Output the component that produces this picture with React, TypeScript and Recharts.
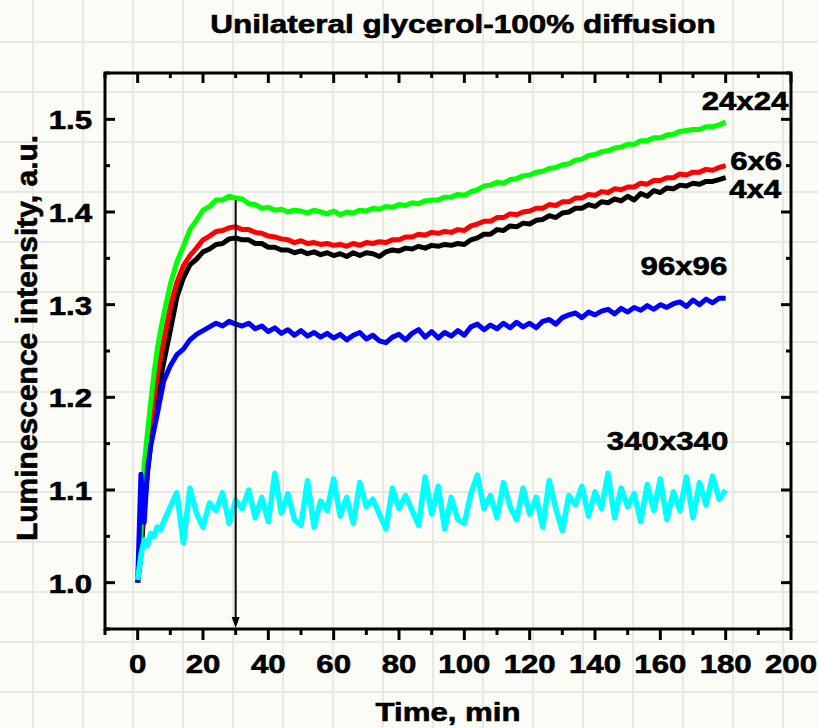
import React from "react";
import {
  LineChart,
  Line,
  XAxis,
  YAxis,
  ReferenceArea,
  ReferenceLine,
  ReferenceDot,
} from "recharts";

// time axis, minutes (denser sampling during the initial rise)
const times = [
  0, 1, 2, 3, 4, 5, 6, 7, 8,
  10, 12, 14, 16, 18, 20, 22, 24, 26, 28,
  30, 32, 34, 36, 38, 40, 42, 44, 46, 48,
  50, 52, 54, 56, 58, 60, 62, 64, 66, 68,
  70, 72, 74, 76, 78, 80, 82, 84, 86, 88,
  90, 92, 94, 96, 98, 100, 102, 104, 106, 108,
  110, 112, 114, 116, 118, 120, 122, 124, 126, 128,
  130, 132, 134, 136, 138, 140, 142, 144, 146, 148,
  150, 152, 154, 156, 158, 160, 162, 164, 166, 168,
  170, 172, 174, 176, 178, 180,
];

const s24x24 = [
  1.0, 1.06, 1.128, 1.162, 1.195, 1.226, 1.252, 1.272, 1.29,
  1.322, 1.346, 1.363, 1.381, 1.391, 1.402, 1.406, 1.413, 1.413, 1.417,
  1.415, 1.414, 1.409, 1.408, 1.404, 1.405, 1.402, 1.403, 1.4, 1.402,
  1.401, 1.399, 1.402, 1.4, 1.398, 1.401, 1.397, 1.4, 1.399, 1.402,
  1.401, 1.404, 1.403, 1.406, 1.405, 1.408, 1.407, 1.41, 1.409, 1.412,
  1.413, 1.413, 1.416, 1.416, 1.419, 1.418, 1.422, 1.424, 1.428, 1.429,
  1.432, 1.431, 1.435, 1.436, 1.439, 1.44, 1.443, 1.444, 1.447, 1.448,
  1.451, 1.452, 1.456, 1.457, 1.461, 1.462, 1.465, 1.466, 1.469, 1.47,
  1.473, 1.473, 1.477, 1.477, 1.48, 1.48, 1.483, 1.484, 1.487, 1.488,
  1.489, 1.489, 1.492, 1.492, 1.494, 1.497,
];

const s6x6 = [
  1.0, 1.04, 1.1, 1.14, 1.17, 1.2, 1.224, 1.244, 1.262,
  1.298, 1.324, 1.342, 1.353, 1.361, 1.37, 1.374, 1.379, 1.38, 1.383,
  1.384, 1.381, 1.381, 1.378, 1.377, 1.374, 1.373, 1.371, 1.37, 1.367,
  1.369, 1.366, 1.367, 1.365, 1.366, 1.364, 1.365, 1.363, 1.366, 1.364,
  1.367, 1.366, 1.368, 1.367, 1.37, 1.37, 1.373, 1.373, 1.376, 1.375,
  1.378, 1.377, 1.379, 1.378, 1.381, 1.38, 1.385, 1.387, 1.39, 1.39,
  1.394, 1.394, 1.398, 1.397, 1.4, 1.401, 1.404, 1.404, 1.408, 1.407,
  1.411, 1.411, 1.415, 1.415, 1.419, 1.418, 1.422, 1.421, 1.425, 1.424,
  1.427, 1.427, 1.431, 1.43, 1.434, 1.434, 1.437, 1.437, 1.441, 1.44,
  1.443, 1.443, 1.446, 1.445, 1.448, 1.45,
];

const s4x4 = [
  1.0, 1.03, 1.08, 1.118, 1.15, 1.178, 1.2, 1.22, 1.238,
  1.272, 1.308, 1.329, 1.343, 1.349, 1.357, 1.36, 1.365, 1.366, 1.371,
  1.372, 1.37, 1.37, 1.366, 1.366, 1.362, 1.362, 1.359, 1.359, 1.356,
  1.358, 1.355, 1.357, 1.354, 1.356, 1.353, 1.355, 1.352, 1.356, 1.353,
  1.356, 1.355, 1.352, 1.357, 1.359, 1.358, 1.361, 1.36, 1.363, 1.361,
  1.364, 1.363, 1.365, 1.364, 1.366, 1.365, 1.37, 1.372, 1.376, 1.376,
  1.381, 1.38, 1.385, 1.384, 1.388, 1.387, 1.391, 1.392, 1.396, 1.394,
  1.399, 1.4, 1.404, 1.404, 1.408, 1.406, 1.411, 1.41, 1.414, 1.412,
  1.417, 1.413, 1.42, 1.417, 1.423, 1.421, 1.426, 1.425, 1.429, 1.428,
  1.431, 1.43, 1.433, 1.433, 1.435, 1.437,
];

const s96x96 = [
  1.0, 1.117, 1.065, 1.122, 1.148, 1.165, 1.182, 1.2, 1.218,
  1.234, 1.246, 1.252, 1.262, 1.268, 1.272, 1.276, 1.28, 1.277, 1.282,
  1.279, 1.277, 1.28, 1.274, 1.277, 1.271, 1.275, 1.269, 1.273, 1.267,
  1.272, 1.266, 1.27, 1.265, 1.269, 1.264, 1.268, 1.262, 1.267, 1.27,
  1.263, 1.267, 1.261, 1.259, 1.265, 1.268, 1.262, 1.269, 1.273, 1.265,
  1.271, 1.264, 1.27, 1.266, 1.272, 1.267, 1.276, 1.279, 1.273, 1.278,
  1.274, 1.28, 1.275, 1.281, 1.276, 1.28, 1.275, 1.282, 1.284, 1.279,
  1.286, 1.289, 1.291, 1.286, 1.292, 1.289, 1.293, 1.295, 1.29, 1.296,
  1.292, 1.297, 1.294, 1.299, 1.295, 1.3, 1.297, 1.301, 1.303, 1.298,
  1.305, 1.3, 1.306, 1.302, 1.307, 1.307,
];

const s340x340 = [
  1.003, 1.03, 1.046, 1.04, 1.053, 1.05, 1.06, 1.057, 1.066,
  1.082, 1.097, 1.043, 1.102, 1.075, 1.06, 1.086, 1.078, 1.097, 1.064,
  1.089, 1.08, 1.1, 1.07, 1.092, 1.066, 1.118, 1.075, 1.096, 1.068,
  1.062, 1.11, 1.06, 1.088, 1.078, 1.112, 1.072, 1.092, 1.064, 1.108,
  1.082, 1.09, 1.074, 1.058, 1.102, 1.08, 1.094, 1.078, 1.062, 1.114,
  1.074, 1.104, 1.058, 1.092, 1.068, 1.064, 1.096, 1.116, 1.08, 1.094,
  1.07, 1.108, 1.082, 1.068, 1.102, 1.074, 1.092, 1.06, 1.11, 1.08,
  1.056, 1.094, 1.084, 1.104, 1.072, 1.098, 1.08, 1.118, 1.07, 1.102,
  1.082, 1.096, 1.066, 1.106, 1.078, 1.112, 1.068, 1.098, 1.078, 1.114,
  1.07, 1.108, 1.084, 1.115, 1.09, 1.1,
];

const xTicks = [-10, 0, 10, 20, 30, 40, 50, 60, 70, 80, 90, 100, 110, 120, 130, 140, 150, 160, 170, 180, 190, 200];
const yTicks = [0.95, 1.0, 1.05, 1.1, 1.15, 1.2, 1.25, 1.3, 1.35, 1.4, 1.45, 1.5, 1.55];

// series labels: [text, x at right edge, baseline y]
const seriesLabels: [string, number, number][] = [
  ["24x24", 199.2, 1.51],
  ["6x6", 197.3, 1.445],
  ["4x4", 197.0, 1.415],
  ["96x96", 180.5, 1.332],
  ["340x340", 180.8, 1.143],
];

const rows = times.map((t, i) => ({
  t,
  s4: s4x4[i],
  s6: s6x6[i],
  s24: s24x24[i],
  s96: s96x96[i],
  s340: s340x340[i],
}));

const FONT = "'Liberation Sans', Arial, Helvetica, sans-serif";
const SX = 1.2; // the original text is rendered wide
const TXT = { fontFamily: FONT, fontWeight: "bold", fill: "#000", stroke: "#000", strokeWidth: 0.6 } as const;

const isMajorY = (v: number) => Math.abs(v * 10 - Math.round(v * 10)) < 1e-6;

function BottomTick(props: any) {
  const { x, y, payload } = props;
  const v = payload.value;
  const major = v % 20 === 0;
  return (
    <g>
      <line x1={x} x2={x} y1={y} y2={y + (major ? 11 : 6)} stroke="#000" strokeWidth={3} />
      {major && (
        <text transform={`translate(${x},${y + 44}) scale(${SX},1)`} textAnchor="middle" fontSize={26} {...TXT}>
          {v}
        </text>
      )}
    </g>
  );
}

function TopTick(props: any) {
  const { x, y, payload } = props;
  const major = payload.value % 20 === 0;
  return <line x1={x} x2={x} y1={y} y2={y + (major ? 10 : 5)} stroke="#000" strokeWidth={3} />;
}

function LeftTick(props: any) {
  const { x, y, payload } = props;
  const v = payload.value;
  const major = isMajorY(v);
  return (
    <g>
      <line x1={x} x2={x + (major ? 10 : 5)} y1={y} y2={y} stroke="#000" strokeWidth={3} />
      {major && (
        <text transform={`translate(${x - 13},${y + 10}) scale(${SX},1)`} textAnchor="end" fontSize={26} {...TXT}>
          {v.toFixed(1)}
        </text>
      )}
    </g>
  );
}

function RightTick(props: any) {
  const { x, y, payload } = props;
  const major = isMajorY(payload.value);
  return <line x1={x} x2={x - (major ? 10 : 5)} y1={y} y2={y} stroke="#000" strokeWidth={3} />;
}

export default function App() {
  return (
    <div
      style={{
        position: "absolute",
        left: 0,
        top: 0,
        width: 818,
        height: 728,
        backgroundColor: "#fcfcf7",
        backgroundImage:
          "linear-gradient(to right, #e9e9e3 2px, transparent 2px), linear-gradient(to bottom, #e9e9e3 2px, transparent 2px)",
        backgroundSize: "50px 50px",
        backgroundPosition: "32px 41px",
      }}
    >
      <LineChart
        width={818}
        height={728}
        data={rows}
        margin={{ top: 53, right: 7, bottom: 0, left: 0 }}
      >
        <XAxis
          dataKey="t"
          type="number"
          domain={[-10, 200]}
          ticks={xTicks}
          interval={0}
          allowDataOverflow
          height={99}
          axisLine={false}
          tickLine={false}
          tickSize={0}
          tickMargin={0}
          tick={BottomTick}
        />
        <XAxis
          xAxisId="top"
          orientation="top"
          dataKey="t"
          type="number"
          domain={[-10, 200]}
          ticks={xTicks}
          interval={0}
          allowDataOverflow
          height={20}
          axisLine={false}
          tickLine={false}
          tickSize={0}
          tickMargin={0}
          tick={TopTick}
        />
        <YAxis
          type="number"
          domain={[0.95, 1.55]}
          ticks={yTicks}
          interval={0}
          allowDataOverflow
          width={105}
          axisLine={false}
          tickLine={false}
          tickSize={0}
          tickMargin={0}
          tick={LeftTick}
        />
        <YAxis
          yAxisId="right"
          orientation="right"
          type="number"
          domain={[0.95, 1.55]}
          ticks={yTicks}
          interval={0}
          allowDataOverflow
          width={20}
          axisLine={false}
          tickLine={false}
          tickSize={0}
          tickMargin={0}
          tick={RightTick}
        />

        <Line dataKey="s4" stroke="#000000" strokeWidth={5} dot={false} activeDot={false} strokeLinejoin="round" isAnimationActive={false} />
        <Line dataKey="s6" stroke="#ff0000" strokeWidth={5} dot={false} activeDot={false} strokeLinejoin="round" isAnimationActive={false} />
        <Line dataKey="s24" stroke="#00ff00" strokeWidth={5} dot={false} activeDot={false} strokeLinejoin="round" isAnimationActive={false} />
        <Line dataKey="s96" stroke="#0000ff" strokeWidth={5} dot={false} activeDot={false} strokeLinejoin="round" isAnimationActive={false} />
        <Line dataKey="s340" stroke="#00ffff" strokeWidth={5.5} dot={false} activeDot={false} strokeLinejoin="round" isAnimationActive={false} />

        <ReferenceArea x1={-10} x2={200} y1={0.95} y2={1.55} fill="none" stroke="#000" strokeWidth={3} />

        {/* arrow at t = 30 min */}
        <ReferenceLine
          segment={[
            { x: 30, y: 1.413 },
            { x: 30, y: 0.962 },
          ]}
          stroke="#000"
          strokeWidth={2}
        />
        <ReferenceDot
          x={30}
          y={0.95}
          shape={(p: any) => (
            <polygon
              points={`${p.cx - 4},${p.cy - 12} ${p.cx + 4},${p.cy - 12} ${p.cx},${p.cy - 1}`}
              fill="#000"
            />
          )}
        />

        {seriesLabels.map(([label, lx, ly]) => (
          <ReferenceDot
            key={label}
            x={lx}
            y={ly}
            shape={(p: any) => (
              <text transform={`translate(${p.cx},${p.cy}) scale(${SX},1)`} textAnchor="end" fontSize={26} {...TXT}>
                {label}
              </text>
            )}
          />
        ))}
      </LineChart>

      <svg
        width={818}
        height={728}
        style={{ position: "absolute", left: 0, top: 0, pointerEvents: "none" }}
      >
        <text transform="translate(463,33) scale(1.26,1)" textAnchor="middle" fontSize={25} {...TXT}>
          Unilateral glycerol-100% diffusion
        </text>
        <text transform={`translate(448,721) scale(${SX},1)`} textAnchor="middle" fontSize={26} {...TXT}>
          Time, min
        </text>
        <text transform="translate(37,338) rotate(-90)" textAnchor="middle" fontSize={30} {...TXT}>
          Luminescence intensity, a.u.
        </text>
      </svg>
    </div>
  );
}
